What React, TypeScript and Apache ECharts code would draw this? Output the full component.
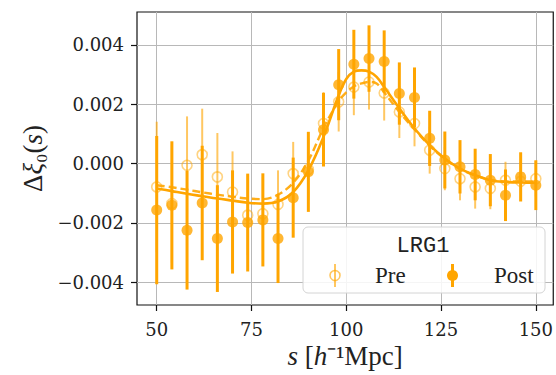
import React, { useEffect, useRef } from "react";
import * as echarts from "echarts";

// Separation s [h^-1 Mpc]
const sValues = [50, 54, 58, 62, 66, 70, 74, 78, 82, 86, 90, 94, 98, 102, 106, 110, 114, 118, 122, 126, 130, 134, 138, 142, 146, 150];

// Pre-reconstruction measurement
const preMean = [-0.00079, -0.00135, -0.00006, 0.0003, -0.00045, -0.00096, -0.00174, -0.00169, -0.00138, -0.00034, -0.0002, 0.00135, 0.00208, 0.00258, 0.00275, 0.00238, 0.00174, 0.00135, 0.00045, -0.00017, -0.00051, -0.00079, -0.00084, -0.00056, -0.0006, -0.00051];
const preErr = [0.0022, 0.002, 0.00165, 0.00155, 0.00148, 0.00137, 0.00135, 0.00124, 0.00115, 0.00107, 0.00105, 0.00106, 0.001, 0.00095, 0.00093, 0.00093, 0.00088, 0.00077, 0.00079, 0.00073, 0.00073, 0.00073, 0.0007, 0.00062, 0.00065, 0.0006];

// Post-reconstruction measurement
const postMean = [-0.00157, -0.00141, -0.00225, -0.00133, -0.00253, -0.00197, -0.00199, -0.0019, -0.00253, -0.00115, -0.00028, 0.00114, 0.00266, 0.00335, 0.00354, 0.00344, 0.00236, 0.00223, 0.00085, 0.00012, -0.00011, -0.00037, -0.00056, -0.00107, -0.00045, -0.00073];
const postErr = [0.0025, 0.00216, 0.002, 0.00193, 0.0018, 0.00174, 0.00165, 0.00157, 0.0015, 0.00135, 0.00135, 0.00124, 0.0012, 0.00116, 0.00112, 0.00105, 0.00105, 0.00101, 0.00093, 0.00096, 0.0009, 0.00087, 0.00088, 0.00087, 0.00083, 0.00084];

// Best-fit model curves
const modelS = [50, 54, 58, 62, 66, 70, 74, 78, 82, 86, 90, 94, 98, 100, 102, 104, 106, 108, 110, 114, 118, 122, 126, 130, 134, 138, 142, 146, 150];
const postModel = [-0.00084, -0.00093, -0.00102, -0.0011, -0.00118, -0.00125, -0.00132, -0.00135, -0.00128, -0.00096, -0.00023, 0.0009, 0.0023, 0.00285, 0.0031, 0.00314, 0.0031, 0.00292, 0.00258, 0.00186, 0.00118, 0.00062, 0.00017, -0.00017, -0.00039, -0.00056, -0.00062, -0.00064, -0.00065];
const preModel = [-0.00073, -0.0008, -0.00088, -0.00097, -0.00105, -0.00112, -0.00118, -0.0012, -0.00105, -0.00065, 0.0001, 0.0012, 0.0021, 0.0024, 0.0026, 0.0027, 0.00275, 0.0027, 0.0024, 0.00174, 0.00115, 0.0006, 0.00015, -0.00018, -0.0004, -0.00055, -0.0006, -0.0006, -0.0006];

const xTicks = [50, 75, 100, 125, 150];
const yTicks = [-0.004, -0.002, 0, 0.002, 0.004];

const ORANGE = "#FFA500";
const PRE = "rgba(255,165,0,0.62)";
const SERIF = "Liberation Serif";
const TICKFONT = "DejaVu Serif";
const MONO = "Liberation Mono, Courier New, Nimbus Mono PS, FreeMono, monospace";

function errorBars(mean: number[], err: number[], color: string, width: number, z: number) {
  return {
    type: "custom",
    z,
    silent: true,
    data: sValues.map((s, i) => [s, mean[i] - err[i], mean[i] + err[i]]),
    encode: { x: 0, y: [1, 2] },
    renderItem: (_params: any, api: any) => {
      const p1 = api.coord([api.value(0), api.value(1)]);
      const p2 = api.coord([api.value(0), api.value(2)]);
      return {
        type: "line",
        shape: { x1: p1[0], y1: p1[1], x2: p2[0], y2: p2[1] },
        style: { stroke: color, lineWidth: width },
      };
    },
  };
}

export default function App() {
  const ref = useRef<HTMLDivElement>(null);

  useEffect(() => {
    if (!ref.current) return;
    const chart = echarts.init(ref.current, undefined, { renderer: "svg" });
    const fmtY = (v: number) => {
      const s = Math.abs(v).toFixed(3);
      return v < -1e-9 ? "\u2212" + s : s;
    };
    const fmtX = (v: number) => String(Math.round(v));
    const italic = { fontFamily: SERIF, fontSize: 27, fontStyle: "italic", color: "#222" };
    chart.setOption({
      animation: false,
      backgroundColor: "#fff",
      textStyle: { fontFamily: TICKFONT, color: "#222" },
      grid: {
        left: 137,
        right: 2,
        top: 12,
        bottom: 70,
        show: true,
        borderColor: "#111",
        borderWidth: 1.2,
        backgroundColor: "transparent",
      },
      xAxis: {
        type: "value",
        min: 44.8,
        max: 154.6,
        axisLine: { show: false, onZero: false },
        axisTick: { show: true, customValues: xTicks, length: 6, lineStyle: { color: "#111", width: 1.2 } },
        axisLabel: {
          customValues: xTicks,
          formatter: fmtX,
          fontFamily: TICKFONT,
          fontSize: 18,
          color: "#222",
          margin: 15,
        },
        splitLine: { show: true, lineStyle: { color: "#b8b8b8", width: 1 } },
        name: "{i|s} [{i|h}\u207B\u00B9Mpc]",
        nameLocation: "middle",
        nameGap: 36,
        nameTextStyle: {
          fontFamily: SERIF,
          fontSize: 27,
          color: "#222",
          rich: { i: italic },
        },
      },
      yAxis: {
        type: "value",
        min: -0.00477,
        max: 0.00511,
        axisLine: { show: false, onZero: false },
        axisTick: { show: true, customValues: yTicks, length: 6, lineStyle: { color: "#111", width: 1.2 } },
        axisLabel: {
          customValues: yTicks,
          formatter: fmtY,
          fontFamily: TICKFONT,
          fontSize: 18,
          color: "#222",
          margin: 13,
        },
        splitLine: { show: true, lineStyle: { color: "#b8b8b8", width: 1 } },
        name: "\u0394{i|\u03BE}\u2080({i|s})",
        nameLocation: "middle",
        nameRotate: 90,
        nameGap: 91,
        nameTextStyle: {
          fontFamily: SERIF,
          fontSize: 27,
          color: "#222",
          rich: { i: italic },
        },
      },
      series: [
        {
          type: "line",
          z: 2,
          silent: true,
          data: modelS.map((s, i) => [s, preModel[i]]),
          showSymbol: false,
          smooth: 0.35,
          lineStyle: { color: ORANGE, width: 2.4, type: [8, 4], opacity: 0.9 },
        },
        {
          type: "line",
          z: 3,
          silent: true,
          data: modelS.map((s, i) => [s, postModel[i]]),
          showSymbol: false,
          smooth: 0.35,
          lineStyle: { color: ORANGE, width: 2.6 },
        },
        errorBars(preMean, preErr, PRE, 2, 4),
        {
          type: "scatter",
          z: 5,
          silent: true,
          data: sValues.map((s, i) => [s, preMean[i]]),
          symbol: "circle",
          symbolSize: 10,
          itemStyle: { color: "rgba(255,255,255,0)", borderColor: PRE, borderWidth: 1.6 },
        },
        errorBars(postMean, postErr, ORANGE, 3, 6),
        {
          type: "scatter",
          z: 7,
          silent: true,
          data: sValues.map((s, i) => [s, postMean[i]]),
          symbol: "circle",
          symbolSize: 11,
          itemStyle: { color: ORANGE },
        },
      ],
      graphic: [
        {
          type: "rect",
          z: 100,
          shape: { x: 303, y: 227, width: 242, height: 66, r: 5 },
          style: { fill: "rgba(255,255,255,0.85)", stroke: "#d4d4d4", lineWidth: 1 },
        },
        {
          type: "text",
          z: 101,
          x: 423,
          y: 246,
          style: {
            text: "LRG1",
            fontFamily: MONO,
            fontSize: 22,
            fill: "#222",
            align: "center",
            verticalAlign: "middle",
          },
        },
        {
          type: "line",
          z: 101,
          shape: { x1: 335, y1: 264, x2: 335, y2: 287 },
          style: { stroke: PRE, lineWidth: 2 },
        },
        {
          type: "circle",
          z: 102,
          shape: { cx: 335, cy: 275.5, r: 5 },
          style: { fill: "rgba(255,255,255,0)", stroke: PRE, lineWidth: 1.6 },
        },
        {
          type: "text",
          z: 101,
          x: 375,
          y: 275,
          style: { text: "Pre", fontFamily: SERIF, fontSize: 23, fill: "#222", align: "left", verticalAlign: "middle" },
        },
        {
          type: "line",
          z: 101,
          shape: { x1: 452.5, y1: 264, x2: 452.5, y2: 287 },
          style: { stroke: ORANGE, lineWidth: 3 },
        },
        {
          type: "circle",
          z: 102,
          shape: { cx: 452.5, cy: 275.5, r: 5.5 },
          style: { fill: ORANGE },
        },
        {
          type: "text",
          z: 101,
          x: 494,
          y: 275,
          style: { text: "Post", fontFamily: SERIF, fontSize: 23, fill: "#222", align: "left", verticalAlign: "middle" },
        },
      ],
    });
    return () => chart.dispose();
  }, []);

  return <div ref={ref} style={{ position: "fixed", left: 0, top: 0, width: 556, height: 375 }} />;
}
